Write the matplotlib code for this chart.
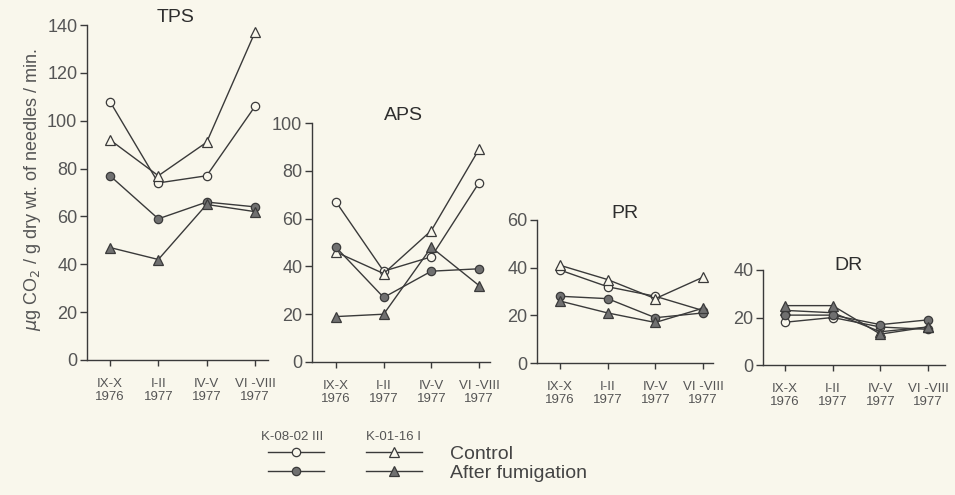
import matplotlib.pyplot as plt
import matplotlib.lines as mlines
import numpy as np

W, H = 955, 495
BG = '#f9f7ec'
INK = '#3a3a3a'
GREY = '#707070'

periods = ['IX-X\n1976', 'I-II\n1977', 'IV-V\n1977', 'VI -VIII\n1977']
panels = ['TPS', 'APS', 'PR', 'DR']

# K-08-02 III control / fumigated, K-01-16 I control / fumigated
tps_c08 = [108, 74, 77, 106]
tps_c01 = [92, 77, 91, 137]
tps_f08 = [77, 59, 66, 64]
tps_f01 = [47, 42, 65, 62]

aps_c08 = [67, 38, 44, 75]
aps_c01 = [46, 37, 55, 89]
aps_f08 = [48, 27, 38, 39]
aps_f01 = [19, 20, 48, 32]

pr_c08 = [39, 32, 28, 22]
pr_c01 = [41, 35, 27, 36]
pr_f08 = [28, 27, 19, 21]
pr_f01 = [26, 21, 17, 23]

dr_c08 = [18, 20, 16, 15]
dr_c01 = [23, 22, 14, 16]
dr_f08 = [21, 21, 17, 19]
dr_f01 = [25, 25, 13, 16]

data = {
    'TPS': (tps_c08, tps_c01, tps_f08, tps_f01),
    'APS': (aps_c08, aps_c01, aps_f08, aps_f01),
    'PR': (pr_c08, pr_c01, pr_f08, pr_f01),
    'DR': (dr_c08, dr_c01, dr_f08, dr_f01),
}
ymax = {'TPS': 140, 'APS': 100, 'PR': 60, 'DR': 40}

# pixel layout: axis left, axis right, y=0 row, y=max row, first / last category column
layout = {
    'TPS': (87, 268, 360, 25, 110, 255),
    'APS': (312, 490, 362, 123, 336, 479),
    'PR': (537, 713, 363, 220, 560, 703),
    'DR': (763, 945, 365, 270, 785, 928),
}
title_pos = {'TPS': (176, 18), 'APS': (403, 116), 'PR': (625, 214), 'DR': (848, 266)}

styles = [
    dict(marker='o', mfc=BG, ms=6),
    dict(marker='^', mfc=BG, ms=7),
    dict(marker='o', mfc=GREY, ms=6),
    dict(marker='^', mfc=GREY, ms=7),
]

plt.rcParams['font.family'] = ['Liberation Sans', 'DejaVu Sans']

fig = plt.figure(figsize=(W / 100, H / 100), dpi=100, facecolor=BG)

x = np.arange(len(periods))
for name in panels:
    left, right, y0, ytop, c0, c3 = layout[name]
    ax = fig.add_axes([left / W, 1 - y0 / H, (right - left) / W, (y0 - ytop) / H])
    ax.set_facecolor('none')
    s = (c3 - c0) / 3
    ax.set_xlim((left - c0) / s, (right - c0) / s)
    ax.set_ylim(0, ymax[name])
    for vals, st in zip(data[name], styles):
        ax.plot(x, vals, color=INK, lw=1.0, mec=INK, mew=0.9, clip_on=False, **st)
    ax.set_xticks(x, periods)
    ax.set_yticks(np.arange(0, ymax[name] + 1, 20))
    for sp in ['top', 'right']:
        ax.spines[sp].set_visible(False)
    for sp in ['left', 'bottom']:
        ax.spines[sp].set_color(INK)
        ax.spines[sp].set_linewidth(1.0)
    ax.tick_params(axis='y', direction='out', length=5, width=1, color=INK,
                   labelsize=13, labelcolor='#555555', pad=2)
    ax.tick_params(axis='x', direction='out', length=4, width=1, color=INK,
                   labelsize=9.5, labelcolor='#555555', pad=9)
    for lab in ax.get_xticklabels():
        lab.set_linespacing(1.15)
    tx, ty = title_pos[name]
    fig.text(tx / W, 1 - ty / H, name, ha='center', va='center', fontsize=14,
             color='#2e2e2e')

fig.text(33 / W, 1 - 190 / H, r'$\mu$g CO$_2$ / g dry wt. of needles / min.',
         rotation=90, ha='center', va='center', fontsize=13, color='#555555')

# legend
handles = [mlines.Line2D([], [], color=INK, lw=1.0, mec=INK, mew=0.9, **st) for st in styles]
fig.legend([handles[0], handles[2], handles[1], handles[3]],
           ['', '', 'Control', 'After fumigation'], ncol=2,
           loc='upper left', bbox_to_anchor=(268 / W, 1 - 445 / H),
           frameon=False, fontsize=14, handlelength=2.9, handletextpad=1.43,
           columnspacing=0.7, labelspacing=0.1, borderpad=0, borderaxespad=0,
           labelcolor='#444444')
fig.text(292 / W, 1 - 437 / H, 'K-08-02 III', ha='center', va='center', fontsize=9.5,
         color='#555555')
fig.text(393 / W, 1 - 437 / H, 'K-01-16 I', ha='center', va='center', fontsize=9.5,
         color='#555555')

fig.savefig('out.png', dpi=100, facecolor=BG)
